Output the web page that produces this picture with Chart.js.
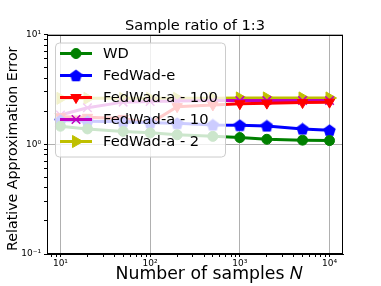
<!DOCTYPE html>
<html>
<head>
<meta charset="utf-8">
<script src="https://cdn.jsdelivr.net/npm/chart.js@4.4.1/dist/chart.umd.min.js"></script>
<style>
    html, body { margin: 0; padding: 0; background: #fff; }
    #wrap { width: 381px; height: 286px; }
</style>
</head>
<body>
<div id="wrap"><canvas id="errorChart" width="381" height="286"></canvas></div>
<script>
// Data
const sampleSizes = [10, 20, 50, 100, 200, 500, 1000, 2000, 5000, 10000];
const wdError = [1.46, 1.38, 1.31, 1.27, 1.22, 1.18, 1.15, 1.11, 1.09, 1.08];
const fedWadE = [1.65, 1.62, 1.60, 1.57, 1.55, 1.50, 1.49, 1.47, 1.38, 1.34];
const fedWadA100 = [1.78, 1.76, 1.72, 1.55, 2.20, 2.28, 2.34, 2.37, 2.40, 2.42];
const fedWadA10 = [1.85, 2.15, 2.42, 2.45, 2.48, 2.50, 2.50, 2.50, 2.50, 2.50];
const fedWadA2 = [2.62, 2.62, 2.62, 2.62, 2.62, 2.62, 2.64, 2.64, 2.64, 2.64];
const seriesNames = ['WD', 'FedWad-e', 'FedWad-a - 100', 'FedWad-a - 10', 'FedWad-a - 2'];

const xTickValues = [10, 100, 1000, 10000];
const xTickLabels = ['10¹', '10²', '10³', '10⁴'];
const yTickValues = [0.1, 1, 10];
const yTickLabels = ['10⁻¹', '10⁰', '10¹'];

const FONT = '"DejaVu Sans", sans-serif';

// Pentagon marker (Chart.js has none built in)
function makePentagon(color, size) {
    const c = document.createElement('canvas');
    c.width = size; c.height = size;
    const ctx = c.getContext('2d');
    const r = size / 2;
    ctx.beginPath();
    for (let i = 0; i < 5; i++) {
        const a = -Math.PI / 2 + i * 2 * Math.PI / 5;
        const px = r + r * Math.cos(a);
        const py = r + 0.55 + r * Math.sin(a);
        if (i === 0) ctx.moveTo(px, py); else ctx.lineTo(px, py);
    }
    ctx.closePath();
    ctx.fillStyle = color;
    ctx.fill();
    return c;
}

const seriesValues = [wdError, fedWadE, fedWadA100, fedWadA10, fedWadA2];
const seriesStyles = [
    { color: '#008000', pointStyle: 'circle', radius: 5, rotation: 0, pw: 1 },
    { color: '#0000ff', pointStyle: makePentagon('#0000ff', 13), radius: 6.5, rotation: 0, pw: 1 },
    { color: '#ff0000', pointStyle: 'triangle', radius: 6, rotation: 180, pw: 1 },
    { color: '#bf00bf', pointStyle: 'crossRot', radius: 6, rotation: 0, pw: 1.5 },
    { color: '#bfbf00', pointStyle: 'triangle', radius: 7, rotation: 90, pw: 1 }
];

const datasets = seriesValues.map((vals, i) => {
    const st = seriesStyles[i];
    return {
        label: seriesNames[i],
        data: vals.map((v, k) => ({ x: sampleSizes[k], y: v })),
        borderColor: st.color,
        backgroundColor: st.color,
        borderWidth: 3,
        pointStyle: st.pointStyle,
        pointRadius: st.radius,
        pointRotation: st.rotation,
        pointBorderWidth: st.pw,
        pointBackgroundColor: st.color,
        pointBorderColor: st.color,
        tension: 0,
        fill: false
    };
});

function isMajor(value, majors) {
    return majors.some(v => Math.abs(v - value) / v < 1e-6);
}

function labelFor(value, majors, labels) {
    const idx = majors.findIndex(v => Math.abs(v - value) / v < 1e-6);
    return idx >= 0 ? labels[idx] : '';
}

// Log ticks 1..9 x 10^e inside the range
function logTicks(scale) {
    const ticks = [];
    const e0 = Math.floor(Math.log10(scale.min));
    const e1 = Math.ceil(Math.log10(scale.max));
    for (let e = e0; e <= e1; e++) {
        for (let k = 1; k <= 9; k++) {
            const v = k * Math.pow(10, e);
            if (v >= scale.min * 0.9999 && v <= scale.max * 1.0001) ticks.push({ value: v });
        }
    }
    scale.ticks = ticks;
}

// Frame + legend inside the plot
const framePlugin = {
    id: 'frameAndLegend',
    afterDatasetsDraw(chart) {
        const { ctx, chartArea } = chart;
        ctx.save();
        ctx.strokeStyle = '#000';
        ctx.lineWidth = 1;
        ctx.strokeRect(Math.round(chartArea.left) + 0.5, Math.round(chartArea.top) + 0.5,
            Math.round(chartArea.right - chartArea.left) - 1, Math.round(chartArea.bottom - chartArea.top) - 1);

        const bx = chartArea.left + 8;
        const by = chartArea.top + 8;
        const bw = 170, bh = 114, rad = 4;
        ctx.beginPath();
        ctx.roundRect(bx + 0.5, by + 0.5, bw, bh, rad);
        ctx.fillStyle = 'rgba(255,255,255,0.8)';
        ctx.fill();
        ctx.strokeStyle = '#cccccc';
        ctx.lineWidth = 1;
        ctx.stroke();

        ctx.font = '14.7px ' + FONT;
        ctx.textBaseline = 'middle';
        ctx.textAlign = 'left';
        chart.data.datasets.forEach((ds, i) => {
            const y = by + 11 + i * 22;
            const x0 = bx + 5;
            ctx.beginPath();
            ctx.moveTo(x0, y);
            ctx.lineTo(x0 + 32, y);
            ctx.strokeStyle = ds.borderColor;
            ctx.lineWidth = ds.borderWidth;
            ctx.stroke();
            ctx.fillStyle = ds.pointBackgroundColor;
            ctx.strokeStyle = ds.pointBorderColor;
            ctx.lineWidth = ds.pointBorderWidth;
            Chart.helpers.drawPoint(ctx, {
                pointStyle: ds.pointStyle,
                rotation: ds.pointRotation,
                radius: ds.pointRadius,
                borderWidth: ds.pointBorderWidth
            }, x0 + 16, y);
            ctx.fillStyle = '#000';
            ctx.fillText(ds.label, bx + 48, y + 1);
        });
        ctx.restore();
    }
};

const chart = new Chart(document.getElementById('errorChart').getContext('2d'), {
    type: 'line',
    data: { datasets },
    options: {
        responsive: false,
        animation: false,
        layout: { padding: { left: 0, right: 38, top: 0, bottom: 0 } },
        plugins: {
            legend: { display: false },
            tooltip: { enabled: false },
            title: {
                display: true,
                fullSize: false,
                text: 'Sample ratio of 1:3',
                color: '#000',
                font: { family: FONT, size: 14.6, weight: 'normal' },
                padding: { top: 17, bottom: 0 }
            }
        },
        scales: {
            x: {
                type: 'logarithmic',
                min: 7.08,
                max: 14125,
                afterBuildTicks: logTicks,
                afterFit: scale => { scale.height = 32; },
                border: { color: '#000', width: 1 },
                grid: {
                    color: c => isMajor(c.tick.value, xTickValues) ? '#b0b0b0' : 'rgba(0,0,0,0)',
                    tickColor: '#000',
                    tickLength: 3
                },
                ticks: {
                    autoSkip: false,
                    maxRotation: 0,
                    padding: 1,
                    color: '#000',
                    font: { family: FONT, size: 9 },
                    callback: v => labelFor(v, xTickValues, xTickLabels)
                },
                title: {
                    display: true,
                    text: '     Number of samples 𝑁',
                    color: '#000',
                    font: { family: FONT, size: 17.3 },
                    padding: { top: 0, bottom: 1 }
                }
            },
            y: {
                type: 'logarithmic',
                min: 0.1,
                max: 10,
                afterBuildTicks: logTicks,
                afterFit: scale => { scale.width = 47; },
                border: { color: '#000', width: 1 },
                grid: {
                    color: c => isMajor(c.tick.value, yTickValues) ? '#b0b0b0' : 'rgba(0,0,0,0)',
                    tickColor: '#000',
                    tickLength: 3
                },
                ticks: {
                    autoSkip: false,
                    padding: 3,
                    color: '#000',
                    font: { family: FONT, size: 9 },
                    callback: v => labelFor(v, yTickValues, yTickLabels)
                },
                title: {
                    display: true,
                    text: 'Relative Approximation Error  ',
                    color: '#000',
                    font: { family: FONT, size: 14.2 },
                    padding: { top: 5, bottom: 0 }
                }
            }
        }
    },
    plugins: [framePlugin]
});
</script>
</body>
</html>
